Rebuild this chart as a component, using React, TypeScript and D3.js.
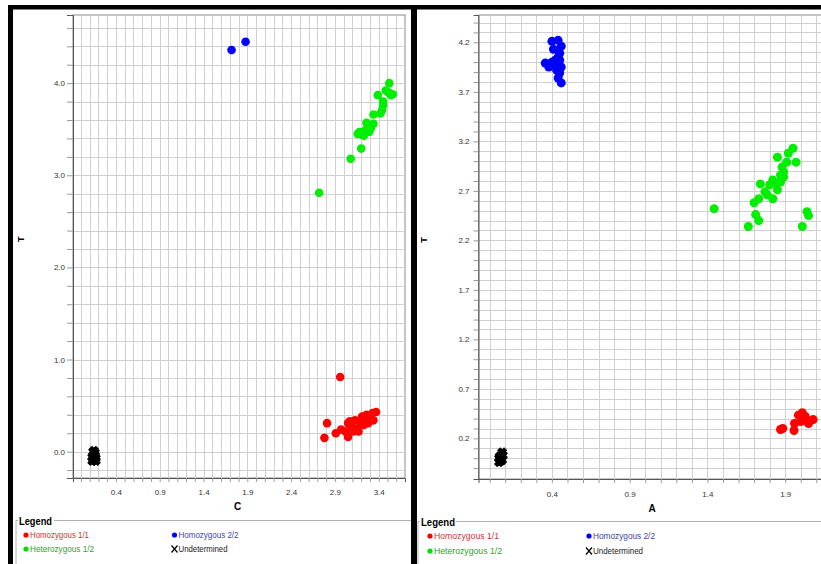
import * as d3 from 'd3';
import React, { useRef, useEffect } from 'react';

// left plot: allele C (x) vs allele T (y)
const leftXTicks = [0.4, 0.9, 1.4, 1.9, 2.4, 2.9, 3.4];
const leftYTicks = [0.0, 1.0, 2.0, 3.0, 4.0];
const leftHomo11: [number, number][] = [
  [2.96, 0.81], [2.81, 0.31], [2.78, 0.15], [2.91, 0.2], [2.97, 0.24], [3.05, 0.16],
  [3.05, 0.31], [3.09, 0.27], [3.13, 0.34], [3.15, 0.25], [3.19, 0.31], [3.21, 0.38],
  [3.25, 0.33], [3.26, 0.4], [3.3, 0.36], [3.33, 0.42], [3.37, 0.43], [3.28, 0.31],
  [3.17, 0.22], [3.11, 0.22], [3.34, 0.34], [3.23, 0.29], [3.02, 0.22], [3.07, 0.33],
];
const leftHomo22: [number, number][] = [[1.72, 4.36], [1.88, 4.45]];
const leftHetero12: [number, number][] = [
  [2.72, 2.81], [3.08, 3.18], [3.2, 3.29], [3.18, 3.47], [3.23, 3.43], [3.26, 3.57],
  [3.29, 3.47], [3.31, 3.51], [3.34, 3.66], [3.34, 3.56], [3.39, 3.87], [3.42, 3.67],
  [3.44, 3.71], [3.45, 3.76], [3.45, 3.8], [3.48, 3.92], [3.52, 4.0], [3.54, 3.87],
  [3.56, 3.88], [3.51, 3.9], [3.21, 3.44], [3.25, 3.49], [3.16, 3.45], [3.28, 3.52],
];
const leftUndetermined: [number, number][] = [
  [0.14, 0.0], [0.16, -0.01], [0.15, 0.01], [0.13, -0.06], [0.17, -0.07], [0.15, -0.09],
  [0.14, -0.08], [0.16, -0.04], [0.15, -0.03], [0.13, -0.1], [0.17, -0.1],
];

// right plot: allele A (x) vs allele T (y)
const rightXTicks = [0.4, 0.9, 1.4, 1.9];
const rightYTicks = [0.2, 0.7, 1.2, 1.7, 2.2, 2.7, 3.2, 3.7, 4.2];
const rightHomo11: [number, number][] = [
  [1.884, 0.3], [1.87, 0.29], [1.957, 0.28], [1.96, 0.35], [1.985, 0.435], [2.01, 0.46],
  [2.03, 0.42], [2.05, 0.35], [2.08, 0.39], [2.0, 0.37], [2.02, 0.385],
];
const rightHomo22: [number, number][] = [
  [0.4, 4.21], [0.44, 4.22], [0.46, 4.16], [0.41, 4.13], [0.45, 4.09], [0.357, 3.99],
  [0.38, 3.98], [0.4, 4.0], [0.42, 3.99], [0.45, 4.02], [0.43, 3.92], [0.45, 3.89],
  [0.44, 3.84], [0.46, 3.79], [0.38, 3.95], [0.44, 4.05], [0.46, 3.95], [0.42, 4.02],
  [0.44, 3.97],
];
const rightHetero12: [number, number][] = [
  [1.443, 2.52], [1.663, 2.34], [1.71, 2.46], [1.73, 2.4], [1.7, 2.58], [1.73, 2.62],
  [1.74, 2.77], [1.785, 2.66], [1.8, 2.76], [1.82, 2.62], [1.82, 2.81], [1.85, 2.71],
  [1.85, 3.04], [1.87, 2.86], [1.88, 2.94], [1.89, 2.84], [1.91, 2.99], [1.92, 3.08],
  [1.95, 3.13], [1.97, 2.99], [2.01, 2.34], [2.04, 2.49], [2.05, 2.45], [1.835, 2.78],
  [1.77, 2.69], [1.87, 2.79], [1.89, 2.89],
];
const rightUndetermined: [number, number][] = [
  [0.08, 0.06], [0.085, 0.03], [0.06, 0.0], [0.07, -0.03], [0.08, -0.02], [0.065, 0.02],
  [0.075, 0.0], [0.06, -0.04],
];

const legendItems = [
  { label: 'Homozygous 1/1', color: '#ff0000', text: '#cc3333', col: 0, row: 0 },
  { label: 'Homozygous 2/2', color: '#0000ff', text: '#3f3fa6', col: 1, row: 0 },
  { label: 'Heterozygous 1/2', color: '#00dd00', text: '#2f9f2f', col: 0, row: 1 },
  { label: 'Undetermined', color: '#000', text: '#222', col: 1, row: 1 },
];

const font = '"Liberation Sans", Arial, sans-serif';

function drawPanel(svg, p) {
  const x = d3.scaleLinear().domain(p.xDomain).range([p.left, p.right]);
  const y = d3.scaleLinear().domain(p.yDomain).range([p.bottom, p.top]);
  const g = svg.append('g');

  g.append('rect')
    .attr('x', p.left).attr('y', p.top)
    .attr('width', p.right - p.left).attr('height', p.bottom - p.top)
    .attr('fill', '#fff').attr('stroke', '#8a8a8a');

  const grid = g.append('g').attr('stroke', '#d0d0d0').attr('shape-rendering', 'crispEdges');
  grid.selectAll('.vx').data(p.xGrid).enter().append('line')
    .attr('x1', d => Math.round(x(d)) + 0.5).attr('x2', d => Math.round(x(d)) + 0.5)
    .attr('y1', p.top).attr('y2', p.bottom);
  grid.selectAll('.hy').data(p.yGrid).enter().append('line')
    .attr('y1', d => Math.round(y(d)) + 0.5).attr('y2', d => Math.round(y(d)) + 0.5)
    .attr('x1', p.left).attr('x2', p.right);

  const isMajor = (ticks, v) => ticks.some(t => Math.abs(t - v) < 1e-6);

  const xAxis = d3.axisBottom(x)
    .tickValues(p.xGrid)
    .tickSize(4)
    .tickPadding(p.xPad)
    .tickFormat(v => (isMajor(p.xTicks, v) ? d3.format('.1f')(v) : ''));
  const yAxis = d3.axisLeft(y)
    .tickValues(p.yGrid)
    .tickSize(p.yTick)
    .tickPadding(p.yPad)
    .tickFormat(v => (isMajor(p.yTicks, v) ? d3.format('.1f')(v) : ''));

  [g.append('g').attr('transform', `translate(0,${p.bottom})`).call(xAxis),
   g.append('g').attr('transform', `translate(${p.left},0)`).call(yAxis)].forEach(a => {
    a.select('.domain').attr('stroke', '#555');
    a.selectAll('.tick line').attr('stroke', '#9a9a9a');
    a.selectAll('text').attr('fill', '#333').style('font-family', font).style('font-size', '8px');
  });

  g.append('text')
    .attr('x', p.xTitle[0]).attr('y', p.xTitle[1])
    .attr('text-anchor', 'middle')
    .style('font-family', font).style('font-size', '10px').style('font-weight', 'bold')
    .text(p.xLabel);
  g.append('text')
    .attr('transform', `translate(${p.yTitle[0]},${p.yTitle[1]}) rotate(-90)`)
    .attr('text-anchor', 'middle').attr('dy', '0.35em')
    .style('font-family', font).style('font-size', '9px').style('font-weight', 'bold')
    .text('T');

  const series = [
    { data: p.homo11, color: '#ff0000' },
    { data: p.hetero12, color: '#00ee00' },
    { data: p.homo22, color: '#0000ff' },
  ];
  series.forEach(s => {
    g.append('g').selectAll('circle').data(s.data).enter().append('circle')
      .attr('cx', d => x(d[0])).attr('cy', d => y(d[1]))
      .attr('r', p.r).attr('fill', s.color);
  });

  // undetermined calls: heavy X marks that merge into a block
  const und = g.append('g').attr('stroke', '#000').attr('stroke-width', 4.5);
  und.selectAll('path').data(p.undetermined).enter().append('path')
    .attr('d', d => {
      const cx = x(d[0]), cy = y(d[1]), k = 3.5;
      return `M${cx - k},${cy - k}L${cx + k},${cy + k}M${cx - k},${cy + k}L${cx + k},${cy - k}`;
    });

  // legend box
  const lg = svg.append('g');
  lg.append('path')
    .attr('d', `M${p.legX},${p.legLineY + 60}V${p.legLineY}H${p.legRight}`)
    .attr('fill', 'none').attr('stroke', '#b0b0b0');
  lg.append('rect')
    .attr('x', p.legX + 2).attr('y', p.legLineY - 7)
    .attr('width', 36).attr('height', 14).attr('fill', '#fff');
  lg.append('text')
    .attr('x', p.legX + 3).attr('y', p.legLineY + 4)
    .style('font-family', font).style('font-size', '11px').style('font-weight', 'bold')
    .attr('textLength', p.legWordW).attr('lengthAdjust', 'spacingAndGlyphs')
    .text('Legend');

  legendItems.forEach((it, i) => {
    const cx = p.legCols[it.col];
    const cy = p.legRows[it.row];
    if (it.label === 'Undetermined') {
      lg.append('path')
        .attr('d', `M${cx - 3},${cy - 3.5}L${cx + 3},${cy + 3.5}M${cx - 3},${cy + 3.5}L${cx + 3},${cy - 3.5}`)
        .attr('stroke', '#000').attr('stroke-width', 1.2);
    } else {
      lg.append('circle').attr('cx', cx).attr('cy', cy).attr('r', 2.6).attr('fill', it.color);
    }
    lg.append('text')
      .attr('x', cx + 4).attr('y', cy + 3.4)
      .attr('fill', it.text)
      .style('font-family', font).style('font-size', '9.5px')
      .attr('textLength', p.legTextW[i]).attr('lengthAdjust', 'spacingAndGlyphs')
      .text(it.label);
  });
}

function GenotypePlots({ width, height }) {
  const ref = useRef(null);

  useEffect(() => {
    draw();
  });

  const draw = () => {
    const svg = d3.select(ref.current).attr('width', width).attr('height', height);
    svg.selectAll('*').remove();

    svg.append('rect').attr('width', width).attr('height', height).attr('fill', '#fff');

    drawPanel(svg, {
      left: 73, right: 405, top: 15, bottom: 478,
      xDomain: [-0.09, 3.7], yDomain: [-0.286, 4.74],
      xGrid: d3.range(0, 3.65, 0.1), yGrid: d3.range(-0.2, 4.65, 0.2),
      xTicks: leftXTicks, yTicks: leftYTicks,
      xPad: 7, yTick: 6, yPad: 2,
      xLabel: 'C', xTitle: [237.7, 509.5], yTitle: [20.7, 239.3],
      homo11: leftHomo11, homo22: leftHomo22, hetero12: leftHetero12, undetermined: leftUndetermined,
      r: 4.3,
      legX: 16, legLineY: 520.5, legRight: 411, legWordW: 33,
      legCols: [26, 174.5], legRows: [535, 549],
      legTextW: [59, 60, 64, 49],
    });

    drawPanel(svg, {
      left: 478.5, right: 880, top: 15, bottom: 479,
      xDomain: [-0.072, (880 - 489.5) / 155.6], yDomain: [-0.21, 4.476],
      xGrid: d3.range(0, 2.5, 0.1), yGrid: d3.range(-0.1, 4.45, 0.1),
      xTicks: rightXTicks, yTicks: rightYTicks,
      xPad: 8, yTick: 5, yPad: 4,
      xLabel: 'A', xTitle: [652, 511.5], yTitle: [424, 240],
      homo11: rightHomo11, homo22: rightHomo22, hetero12: rightHetero12, undetermined: rightUndetermined,
      r: 4.5,
      legX: 418, legLineY: 521.5, legRight: 821, legWordW: 34,
      legCols: [430, 589], legRows: [536, 551],
      legTextW: [65, 62, 68, 50],
    });

    // dark frame around the two screenshots
    svg.append('rect').attr('x', 8).attr('y', 5).attr('width', width - 8).attr('height', 4.5).attr('fill', '#000');
    svg.append('rect').attr('x', 8).attr('y', 5).attr('width', 5).attr('height', height - 5).attr('fill', '#000');
    svg.append('rect').attr('x', 411).attr('y', 5).attr('width', 6).attr('height', height - 5).attr('fill', '#000');
  };

  return <svg ref={ref} style={{ display: 'block' }}></svg>;
}

export default function App() {
  return (
    <div style={{ position: 'absolute', left: 0, top: 0 }}>
      <GenotypePlots width={821} height={564} />
    </div>
  );
}
